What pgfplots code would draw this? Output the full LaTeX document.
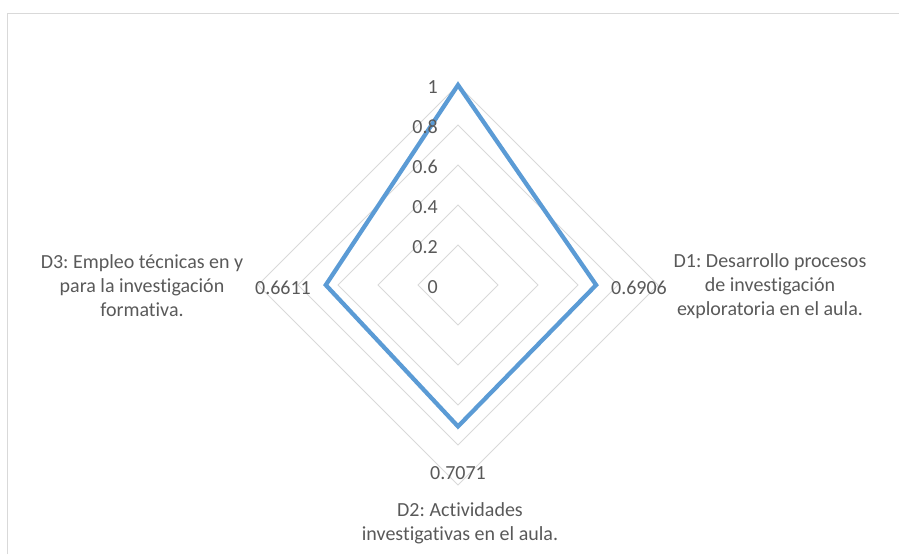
\documentclass[border=0pt]{standalone}
\usepackage{pgfplots}
\pgfplotsset{compat=1.18}
\usepackage{fontspec}
\setmainfont{Carlito}[Ligatures={NoCommon}]
\definecolor{series}{HTML}{5B9BD5}
\definecolor{gridc}{HTML}{D9D9D9}
\definecolor{txt}{HTML}{595959}
\tikzset{lab/.style={font=\fontsize{15pt}{18pt}\selectfont, text=txt, inner sep=0pt}}
\begin{document}
\begin{tikzpicture}
\begin{axis}[name=ax,
  scale only axis, width=674.25pt, height=415.5pt,
  xmin=-2.29, xmax=2.205, ymin=-1.345, ymax=1.425,
  hide axis, clip=false,
]
% frame
\draw[gridc, line width=0.75pt] (axis cs:-2.2525,-1.345) -- (axis cs:-2.2525,1.3575) -- (axis cs:2.205,1.3575);
% grid rings
\pgfplotsinvokeforeach{0.2,0.4,0.6,0.8,1.0}{
  \addplot[gridc, line width=0.75pt, forget plot] coordinates {(0,#1) (#1,0) (0,-#1) (-#1,0)} -- cycle;
}
% data: top=1, D1=0.6906, D2=0.7071, D3=0.6611
\addplot[series, line width=3.2pt, line join=miter, miter limit=10] coordinates {(0,1) (0.6906,0) (0,-0.7071) (-0.6611,0)} -- cycle;
% tick labels
\node[lab, anchor=east] at (axis cs:-0.1,-0.01) {0};
\node[lab, anchor=east] at (axis cs:-0.1,0.19) {0.2};
\node[lab, anchor=east] at (axis cs:-0.1,0.39) {0.4};
\node[lab, anchor=east] at (axis cs:-0.1,0.59) {0.6};
\node[lab, anchor=east] at (axis cs:-0.1,0.79) {0.8};
\node[lab, anchor=east] at (axis cs:-0.1,0.99) {1};
% value labels
\node[lab] at (axis cs:0.905,-0.015) {0.6906};
\node[lab] at (axis cs:-0.875,-0.015) {0.6611};
\node[lab] at (axis cs:0,-0.94) {0.7071};
% category labels
\node[lab, align=center] at (axis cs:1.56,-0.005) {D1:~Desarrollo procesos\\de investigación\\exploratoria en el aula.};
\node[lab, align=center] at (axis cs:-1.58,-0.005) {D3:~Empleo técnicas en y\\para la investigación\\formativa.};
\node[lab, align=center] at (axis cs:0.01,-1.19) {D2:~Actividades\\investigativas en el aula.};
\end{axis}
\pgfresetboundingbox
\path (ax.south west) rectangle (ax.north east);
\end{tikzpicture}
\end{document}
